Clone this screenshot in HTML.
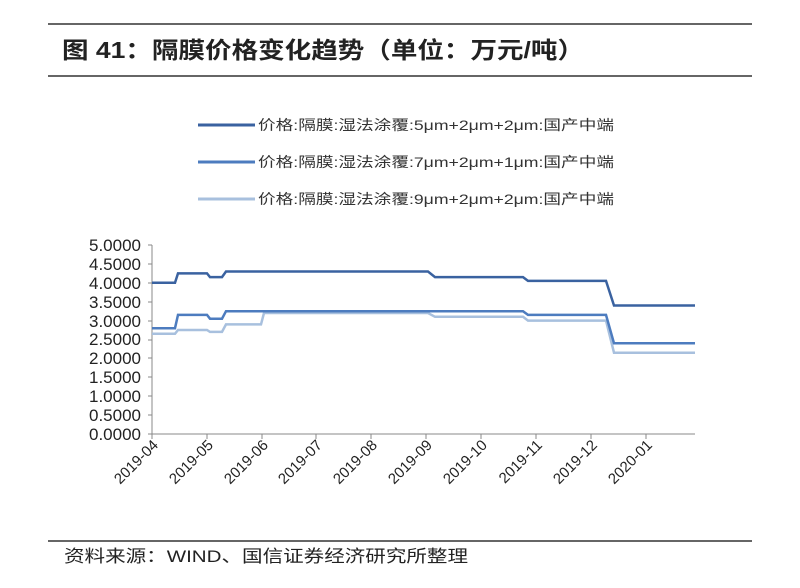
<!DOCTYPE html>
<html><head><meta charset="utf-8"><style>
body{margin:0;background:#fff;width:800px;height:583px;overflow:hidden;font-family:"Liberation Sans","Noto Sans CJK SC",sans-serif}
</style></head><body>
<svg width="800" height="583" viewBox="0 0 800 583" xmlns="http://www.w3.org/2000/svg" font-family="Liberation Sans, Noto Sans CJK SC, sans-serif">
<line x1="48" y1="24" x2="752" y2="24" stroke="#333" stroke-width="1.5"/>
<line x1="48" y1="76" x2="752" y2="76" stroke="#333" stroke-width="1.5"/>
<text x="62" y="58" font-size="23" font-weight="bold" fill="#222" textLength="522" lengthAdjust="spacingAndGlyphs">图 41：隔膜价格变化趋势（单位：万元/吨）</text>
<g font-size="14" fill="#333">
<line x1="198" y1="125" x2="255" y2="125" stroke="#3a62a0" stroke-width="3"/>
<text x="258" y="130" textLength="356" lengthAdjust="spacingAndGlyphs">价格:隔膜:湿法涂覆:5μm+2μm+2μm:国产中端</text>
<line x1="198" y1="162" x2="255" y2="162" stroke="#4d7cbf" stroke-width="3"/>
<text x="258" y="167" textLength="356" lengthAdjust="spacingAndGlyphs">价格:隔膜:湿法涂覆:7μm+2μm+1μm:国产中端</text>
<line x1="198" y1="199" x2="255" y2="199" stroke="#a8c0de" stroke-width="3"/>
<text x="258" y="204" textLength="356" lengthAdjust="spacingAndGlyphs">价格:隔膜:湿法涂覆:9μm+2μm+2μm:国产中端</text>
</g>
<g font-size="17" fill="#222" text-anchor="end">
<text x="141" y="251">5.0000</text><text x="141" y="270">4.5000</text><text x="141" y="289">4.0000</text>
<text x="141" y="308">3.5000</text><text x="141" y="327">3.0000</text><text x="141" y="345">2.5000</text>
<text x="141" y="364">2.0000</text><text x="141" y="383">1.5000</text><text x="141" y="402">1.0000</text>
<text x="141" y="421">0.5000</text><text x="141" y="440">0.0000</text>
</g>
<g stroke="#888" stroke-width="1">
<line x1="152" y1="245" x2="152" y2="434"/>
<line x1="152" y1="434" x2="695" y2="434"/>
<line x1="148" y1="245" x2="152" y2="245"/><line x1="148" y1="264" x2="152" y2="264"/><line x1="148" y1="283" x2="152" y2="283"/><line x1="148" y1="302" x2="152" y2="302"/><line x1="148" y1="321" x2="152" y2="321"/><line x1="148" y1="340" x2="152" y2="340"/><line x1="148" y1="358" x2="152" y2="358"/><line x1="148" y1="377" x2="152" y2="377"/><line x1="148" y1="396" x2="152" y2="396"/><line x1="148" y1="415" x2="152" y2="415"/><line x1="148" y1="434" x2="152" y2="434"/>
<line x1="152" y1="434" x2="152" y2="439"/><line x1="207" y1="434" x2="207" y2="439"/><line x1="262" y1="434" x2="262" y2="439"/><line x1="316" y1="434" x2="316" y2="439"/><line x1="371" y1="434" x2="371" y2="439"/><line x1="426" y1="434" x2="426" y2="439"/><line x1="481" y1="434" x2="481" y2="439"/><line x1="536" y1="434" x2="536" y2="439"/><line x1="591" y1="434" x2="591" y2="439"/><line x1="646" y1="434" x2="646" y2="439"/>
</g>
<g font-size="15" fill="#222" text-anchor="end">
<text transform="translate(159,446) rotate(-45)">2019-04</text>
<text transform="translate(214,446) rotate(-45)">2019-05</text>
<text transform="translate(269,446) rotate(-45)">2019-06</text>
<text transform="translate(323,446) rotate(-45)">2019-07</text>
<text transform="translate(378,446) rotate(-45)">2019-08</text>
<text transform="translate(433,446) rotate(-45)">2019-09</text>
<text transform="translate(488,446) rotate(-45)">2019-10</text>
<text transform="translate(543,446) rotate(-45)">2019-11</text>
<text transform="translate(598,446) rotate(-45)">2019-12</text>
<text transform="translate(653,446) rotate(-45)">2020-01</text>
</g>
<g fill="none" stroke-width="2.5">
<polyline stroke="#a8c0de" points="152,333.8 175,333.8 178,330 207,330 210,331.9 222,331.9 226,324.4 261,324.4 264,313 428,313 435,316.8 523,316.8 528,320.6 606,320.6 614,352.7 695,352.7"/>
<polyline stroke="#4d7cbf" points="152,328.2 175,328.2 178,314.9 207,314.9 210,318.7 222,318.7 226,311.2 523,311.2 528,314.9 606,314.9 614,343.3 695,343.3"/>
<polyline stroke="#3a62a0" points="152,282.8 175,282.8 178,273.4 207,273.4 210,277.1 222,277.1 226,271.5 428,271.5 435,277.1 523,277.1 528,280.9 606,280.9 614,305.5 695,305.5"/>
</g>
<line x1="48" y1="541" x2="752" y2="541" stroke="#333" stroke-width="1.5"/>
<text x="64" y="562" font-size="17" fill="#222" textLength="404" lengthAdjust="spacingAndGlyphs">资料来源：WIND、国信证券经济研究所整理</text>
</svg>
</body></html>
